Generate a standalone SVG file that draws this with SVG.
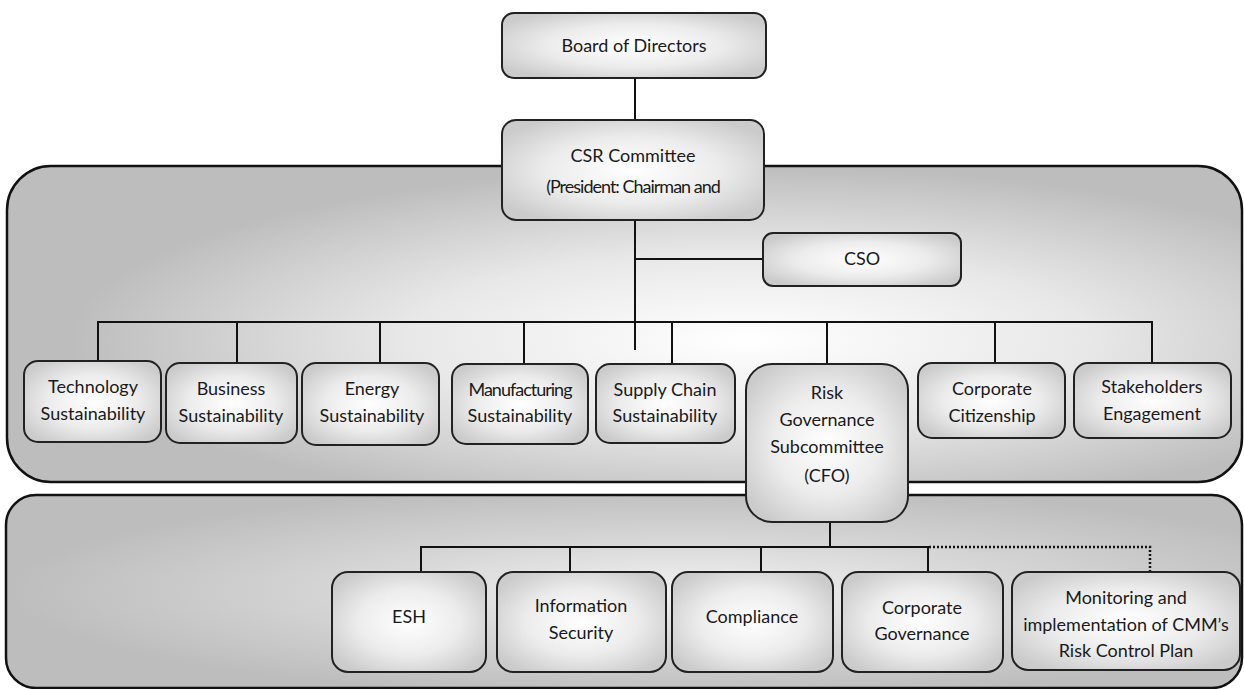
<svg xmlns="http://www.w3.org/2000/svg" width="1244" height="689" viewBox="0 0 1244 689">
  <defs>
    <radialGradient id="boxFill" cx="0.5" cy="0.5" r="0.6">
      <stop offset="0" stop-color="#ffffff"/>
      <stop offset="0.55" stop-color="#ececec"/>
      <stop offset="1" stop-color="#cbcbcb"/>
    </radialGradient>
    <radialGradient id="upperFill" cx="0.6" cy="0.55" r="0.55">
      <stop offset="0" stop-color="#ffffff"/>
      <stop offset="0.5" stop-color="#e8e8e8"/>
      <stop offset="1" stop-color="#bdbdbd"/>
    </radialGradient>
    <radialGradient id="lowerFill" cx="0.55" cy="0.5" r="0.55">
      <stop offset="0" stop-color="#f2f2f2"/>
      <stop offset="0.5" stop-color="#d6d6d6"/>
      <stop offset="1" stop-color="#bdbdbd"/>
    </radialGradient>
    <style>
      .container { stroke: #111; stroke-width: 2.5; }
      .box { fill: url(#boxFill); stroke: #222; stroke-width: 2; }
      .lbl { font-family: "Lato", "Liberation Sans", sans-serif; font-size: 18px; fill: #1a1a1a; text-anchor: middle; }
      .cond { letter-spacing: -1px; }
      .conn { stroke: #111; stroke-width: 2; fill: none; }
      .dot { stroke: #111; stroke-width: 2.5; fill: none; stroke-dasharray: 2 2; }
    </style>
  </defs>

  <g id="containers">
    <rect class="container" x="7" y="166" width="1235" height="316" rx="44" ry="44" fill="url(#upperFill)"/>
    <rect class="container" x="6" y="495" width="1236" height="193" rx="30" ry="30" fill="url(#lowerFill)"/>
  </g>

  <g id="connectors">
    <line class="conn" x1="635" y1="78" x2="635" y2="120"/>
    <line class="conn" x1="635" y1="220" x2="635" y2="350"/>
    <line class="conn" x1="635" y1="259" x2="763" y2="259"/>
    <polyline class="conn" points="98,362 98,322 1152,322 1152,362"/>
    <line class="conn" x1="237" y1="322" x2="237" y2="363"/>
    <line class="conn" x1="380" y1="322" x2="380" y2="363"/>
    <line class="conn" x1="524" y1="322" x2="524" y2="364"/>
    <line class="conn" x1="672" y1="322" x2="672" y2="364"/>
    <line class="conn" x1="827" y1="322" x2="827" y2="364"/>
    <line class="conn" x1="995" y1="322" x2="995" y2="363"/>
    <line class="conn" x1="830" y1="522" x2="830" y2="547"/>
    <polyline class="conn" points="421,572 421,547 928,547 928,572"/>
    <line class="conn" x1="570" y1="547" x2="570" y2="572"/>
    <line class="conn" x1="761" y1="547" x2="761" y2="572"/>
    <polyline class="dot" points="929,547 1150,547 1150,572"/>
  </g>

  <g id="board">
    <rect class="box" x="502" y="13" width="264" height="65" rx="12"/>
    <text class="lbl" x="634" y="52">Board of Directors</text>
  </g>

  <g id="csr">
    <rect class="box" x="502" y="120" width="262" height="100" rx="14"/>
    <text class="lbl" x="633" y="162">CSR Committee</text>
    <text class="lbl cond" x="633" y="193">(President: Chairman and</text>
  </g>

  <g id="cso">
    <rect class="box" x="763" y="233" width="198" height="53" rx="10"/>
    <text class="lbl" x="862" y="265">CSO</text>
  </g>

  <g id="technology">
    <rect class="box" x="24" y="361" width="137" height="81" rx="14"/>
    <text class="lbl" x="93" y="393">Technology</text>
    <text class="lbl" x="93" y="420">Sustainability</text>
  </g>

  <g id="business">
    <rect class="box" x="166" y="363" width="131" height="80" rx="14"/>
    <text class="lbl" x="231" y="395">Business</text>
    <text class="lbl" x="231" y="422">Sustainability</text>
  </g>

  <g id="energy">
    <rect class="box" x="302" y="363" width="137" height="82" rx="14"/>
    <text class="lbl" x="372" y="395">Energy</text>
    <text class="lbl" x="372" y="422">Sustainability</text>
  </g>

  <g id="manufacturing">
    <rect class="box" x="452" y="364" width="136" height="80" rx="14"/>
    <text class="lbl cond" x="520" y="396">Manufacturing</text>
    <text class="lbl" x="520" y="422">Sustainability</text>
  </g>

  <g id="supply-chain">
    <rect class="box" x="596" y="364" width="139" height="79" rx="14"/>
    <text class="lbl" x="665" y="396">Supply Chain</text>
    <text class="lbl" x="665" y="422">Sustainability</text>
  </g>

  <g id="risk">
    <rect class="box" x="746" y="364" width="162" height="158" rx="26"/>
    <text class="lbl" x="827" y="399">Risk</text>
    <text class="lbl" x="827" y="426">Governance</text>
    <text class="lbl" x="827" y="453">Subcommittee</text>
    <text class="lbl" x="827" y="482">(CFO)</text>
  </g>

  <g id="citizenship">
    <rect class="box" x="918" y="363" width="147" height="75" rx="14"/>
    <text class="lbl" x="992" y="395">Corporate</text>
    <text class="lbl" x="992" y="422">Citizenship</text>
  </g>

  <g id="stakeholders">
    <rect class="box" x="1074" y="363" width="157" height="75" rx="14"/>
    <text class="lbl" x="1152" y="393">Stakeholders</text>
    <text class="lbl" x="1152" y="420">Engagement</text>
  </g>

  <g id="esh">
    <rect class="box" x="332" y="572" width="154" height="100" rx="16"/>
    <text class="lbl" x="409" y="623">ESH</text>
  </g>

  <g id="infosec">
    <rect class="box" x="497" y="572" width="169" height="100" rx="16"/>
    <text class="lbl" x="581" y="612">Information</text>
    <text class="lbl" x="581" y="639">Security</text>
  </g>

  <g id="compliance">
    <rect class="box" x="672" y="572" width="161" height="100" rx="16"/>
    <text class="lbl" x="752" y="623">Compliance</text>
  </g>

  <g id="corp-governance">
    <rect class="box" x="842" y="572" width="161" height="100" rx="16"/>
    <text class="lbl" x="922" y="614">Corporate</text>
    <text class="lbl" x="922" y="640">Governance</text>
  </g>

  <g id="monitoring">
    <rect class="box" x="1012" y="572" width="228" height="98" rx="16"/>
    <text class="lbl" x="1126" y="604">Monitoring and</text>
    <text class="lbl" x="1126" y="631">implementation of CMM’s</text>
    <text class="lbl" x="1126" y="657">Risk Control Plan</text>
  </g>
</svg>
